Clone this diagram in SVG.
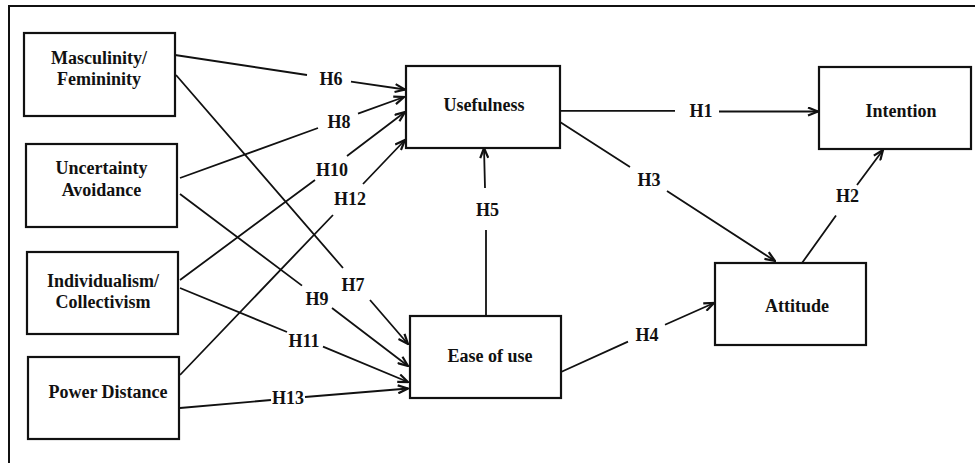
<svg xmlns="http://www.w3.org/2000/svg" width="975" height="463" viewBox="0 0 975 463">
<defs>
<style>
.box{fill:#fff;stroke:#111;stroke-width:2.2}
.t{font-family:'Liberation Serif','Times New Roman','DejaVu Serif',serif;font-weight:bold;font-size:18px;fill:#111;text-anchor:middle}
.c{fill:none;stroke:#111;stroke-width:1.8}
</style>
<marker id="ah" viewBox="0 0 12 10" refX="11" refY="5" markerWidth="12" markerHeight="10" markerUnits="userSpaceOnUse" orient="auto">
<path d="M1,1 L11,5 L1,9" fill="none" stroke="#111" stroke-width="2.2"/>
</marker>
</defs>
<rect width="975" height="463" fill="#fff"/>
<path d="M9,463 V6 H975" fill="none" stroke="#111" stroke-width="2"/>

<g id="connectors">
<path class="c" d="M175,55 L307,75 M351,81.6 L405,89.5" marker-end="url(#ah)"/>
<path class="c" d="M176,75 L343,268 M370,300 L408,344" marker-end="url(#ah)"/>
<path class="c" d="M180,178 L318,128 M358,113.6 L404,97" marker-end="url(#ah)"/>
<path class="c" d="M180,194 L302,285.6 M332,308 L408,366" marker-end="url(#ah)"/>
<path class="c" d="M180,280 L315,180 M347,156 L405,112" marker-end="url(#ah)"/>
<path class="c" d="M180,288 L287,332 M323,346.7 L408,382" marker-end="url(#ah)"/>
<path class="c" d="M180,375 L333,215 M363,184 L405,140" marker-end="url(#ah)"/>
<path class="c" d="M180,408 L271,400 M305,397 L408,388.5" marker-end="url(#ah)"/>
<path class="c" d="M560,110.8 L675,110.8 M719,111.5 L818,111.5" marker-end="url(#ah)"/>
<path class="c" d="M560,122 L630,167 M667,191 L775,261" marker-end="url(#ah)"/>
<path class="c" d="M561,372 L628,341.6 M665,324.8 L714,303" marker-end="url(#ah)"/>
<path class="c" d="M486,316 L486,230 M485,188 L484,148" marker-end="url(#ah)"/>
<path class="c" d="M802,263 L836,215.6 M857,185 L883,150" marker-end="url(#ah)"/>
<text class="t" x="331" y="85">H6</text>
<text class="t" x="353" y="291">H7</text>
<text class="t" x="339" y="128">H8</text>
<text class="t" x="317" y="305">H9</text>
<text class="t" x="332" y="176">H10</text>
<text class="t" x="304" y="347">H11</text>
<text class="t" x="350" y="205">H12</text>
<text class="t" x="288" y="404">H13</text>
<text class="t" x="701" y="117">H1</text>
<text class="t" x="649" y="186">H3</text>
<text class="t" x="647" y="341">H4</text>
<text class="t" x="487.5" y="216">H5</text>
<text class="t" x="847.5" y="202">H2</text>
</g>

<g id="masculinity">
<rect class="box" x="24" y="33" width="151" height="83"/>
<text class="t" x="99" y="64">Masculinity/</text>
<text class="t" x="99" y="85">Femininity</text>
</g>
<g id="uncertainty">
<rect class="box" x="26" y="144" width="151" height="83"/>
<text class="t" x="101.5" y="174">Uncertainty</text>
<text class="t" x="101.5" y="196">Avoidance</text>
</g>
<g id="individualism">
<rect class="box" x="27" y="252" width="151" height="82"/>
<text class="t" x="103" y="287">Individualism/</text>
<text class="t" x="103" y="308">Collectivism</text>
</g>
<g id="power-distance">
<rect class="box" x="28" y="357" width="151" height="82"/>
<text class="t" x="108" y="398">Power Distance</text>
</g>
<g id="usefulness">
<rect class="box" x="406" y="66" width="154" height="82"/>
<text class="t" x="484" y="111">Usefulness</text>
</g>
<g id="ease-of-use">
<rect class="box" x="410" y="316" width="151" height="82"/>
<text class="t" x="490" y="362">Ease of use</text>
</g>
<g id="intention">
<rect class="box" x="819" y="67" width="152" height="82"/>
<text class="t" x="901" y="117">Intention</text>
</g>
<g id="attitude">
<rect class="box" x="715" y="263" width="151" height="82"/>
<text class="t" x="797" y="312">Attitude</text>
</g>
</svg>
